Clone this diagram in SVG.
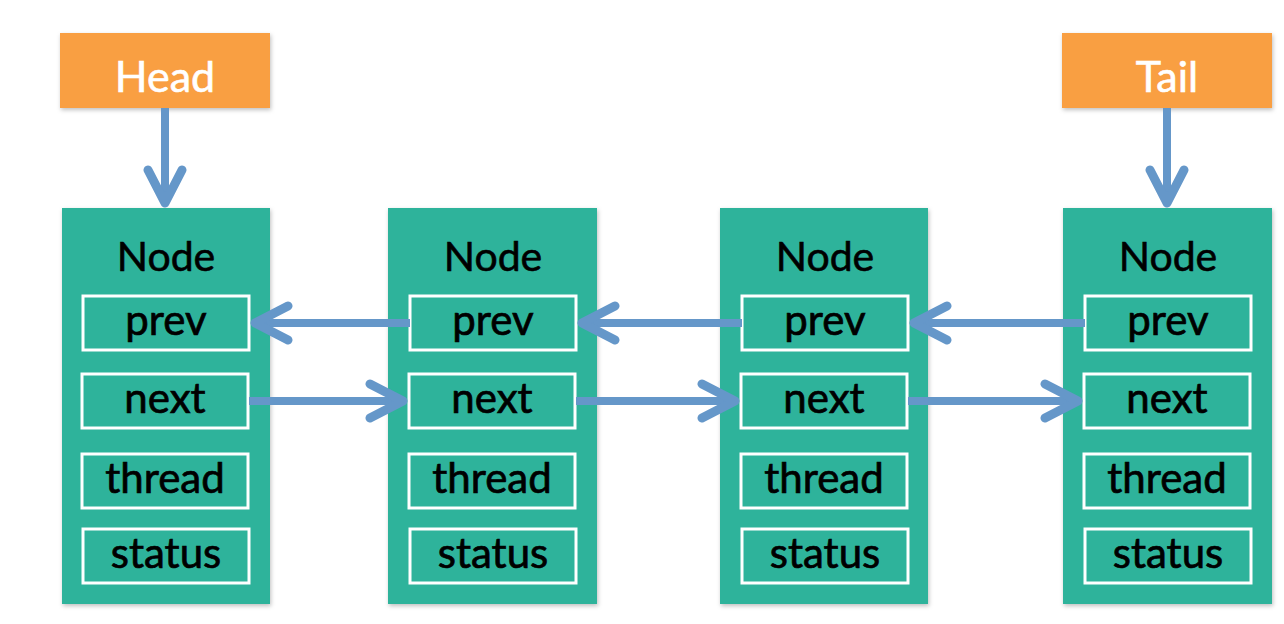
<svg xmlns="http://www.w3.org/2000/svg" width="1284" height="624" viewBox="0 0 1284 624">
  <style>
    .ptr { fill: #F99F43; }
    .ptr-label { font-family: Lato, "Open Sans", "Liberation Sans", sans-serif; font-size: 43px; fill: #ffffff; stroke: #ffffff; stroke-width: 0.6; text-anchor: middle; }
    .node { fill: #2EB39B; }
    .title { font-family: Lato, "Open Sans", "Liberation Sans", sans-serif; font-size: 41px; fill: #000000; stroke: #000000; stroke-width: 0.6; text-anchor: middle; }
    .field { fill: #2EB39B; stroke: #ffffff; stroke-width: 3; }
    .flabel { font-family: Lato, "Open Sans", "Liberation Sans", sans-serif; font-size: 42px; fill: #000000; stroke: #000000; stroke-width: 0.7; text-anchor: middle; }
    .conn { stroke: #6597C9; stroke-width: 8; fill: none; marker-end: url(#arrow); }
    .shadow { filter: url(#sh); }
  </style>
  <defs>
    <filter id="sh" x="-10%" y="-10%" width="120%" height="120%">
      <feDropShadow dx="1" dy="2" stdDeviation="2" flood-color="#000000" flood-opacity="0.25"/>
    </filter>
    <marker id="arrow" viewBox="0 0 44 44" markerWidth="44" markerHeight="44" refX="38" refY="22" orient="auto" markerUnits="userSpaceOnUse">
      <path d="M 5 5 L 38 22 L 5 39" fill="none" stroke="#6597C9" stroke-width="9" stroke-linecap="round" stroke-linejoin="round"/>
    </marker>
  </defs>
  <rect width="1284" height="624" fill="#ffffff"/>

  <g id="head">
    <rect class="ptr shadow" x="60" y="33" width="210" height="75"/>
    <text class="ptr-label" x="165" y="92">Head</text>
  </g>
  <g id="tail">
    <rect class="ptr shadow" x="1062" y="33" width="210" height="75"/>
    <text class="ptr-label" x="1167" y="92">Tail</text>
  </g>

  <g id="node1">
    <rect class="node shadow" x="62" y="208" width="208" height="396"/>
    <text class="title" x="166" y="271">Node</text>
    <rect class="field" x="83" y="296" width="166" height="54"/>
    <text class="flabel" x="166" y="335">prev</text>
    <rect class="field" x="82" y="374" width="166" height="54"/>
    <text class="flabel" x="165" y="413">next</text>
    <rect class="field" x="82" y="454" width="166" height="54"/>
    <text class="flabel" x="165" y="493">thread</text>
    <rect class="field" x="83" y="529" width="166" height="54"/>
    <text class="flabel" x="166" y="568">status</text>
  </g>

  <g id="node2">
    <rect class="node shadow" x="388" y="208" width="209" height="396"/>
    <text class="title" x="493" y="271">Node</text>
    <rect class="field" x="410" y="296" width="166" height="54"/>
    <text class="flabel" x="493" y="335">prev</text>
    <rect class="field" x="409" y="374" width="166" height="54"/>
    <text class="flabel" x="492" y="413">next</text>
    <rect class="field" x="409" y="454" width="166" height="54"/>
    <text class="flabel" x="492" y="493">thread</text>
    <rect class="field" x="410" y="529" width="166" height="54"/>
    <text class="flabel" x="493" y="568">status</text>
  </g>

  <g id="node3">
    <rect class="node shadow" x="720" y="208" width="208" height="396"/>
    <text class="title" x="825" y="271">Node</text>
    <rect class="field" x="742" y="296" width="166" height="54"/>
    <text class="flabel" x="825" y="335">prev</text>
    <rect class="field" x="741" y="374" width="166" height="54"/>
    <text class="flabel" x="824" y="413">next</text>
    <rect class="field" x="741" y="454" width="166" height="54"/>
    <text class="flabel" x="824" y="493">thread</text>
    <rect class="field" x="742" y="529" width="166" height="54"/>
    <text class="flabel" x="825" y="568">status</text>
  </g>

  <g id="node4">
    <rect class="node shadow" x="1063" y="208" width="209" height="396"/>
    <text class="title" x="1168" y="271">Node</text>
    <rect class="field" x="1085" y="296" width="166" height="54"/>
    <text class="flabel" x="1168" y="335">prev</text>
    <rect class="field" x="1084" y="374" width="166" height="54"/>
    <text class="flabel" x="1167" y="413">next</text>
    <rect class="field" x="1084" y="454" width="166" height="54"/>
    <text class="flabel" x="1167" y="493">thread</text>
    <rect class="field" x="1085" y="529" width="166" height="54"/>
    <text class="flabel" x="1168" y="568">status</text>
  </g>

  <g id="connectors">
    <line class="conn" x1="165" y1="108" x2="165" y2="203"/>
    <line class="conn" x1="1167" y1="108" x2="1167" y2="203"/>
    <line class="conn" x1="410" y1="323" x2="255" y2="323"/>
    <line class="conn" x1="742" y1="323" x2="582" y2="323"/>
    <line class="conn" x1="1085" y1="323" x2="914" y2="323"/>
    <line class="conn" x1="249" y1="401" x2="403" y2="401"/>
    <line class="conn" x1="576" y1="401" x2="735" y2="401"/>
    <line class="conn" x1="908" y1="401" x2="1078" y2="401"/>
  </g>
</svg>
